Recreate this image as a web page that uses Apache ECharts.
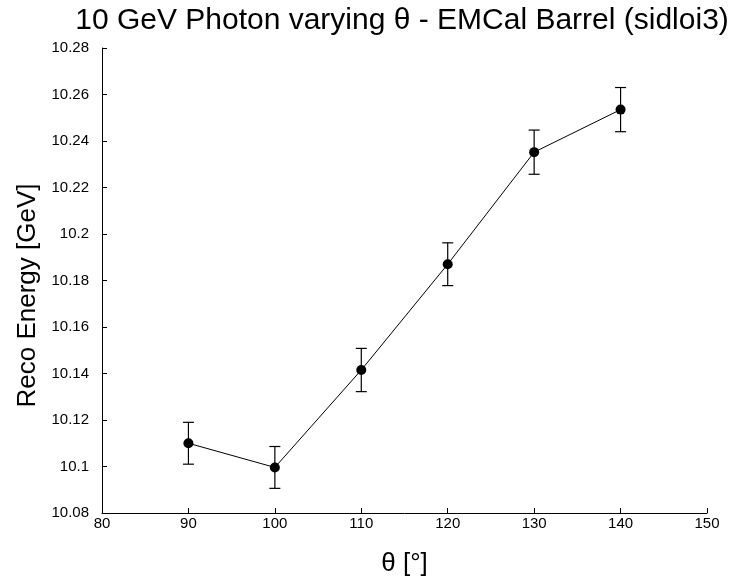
<!DOCTYPE html>
<html>
<head>
<meta charset="utf-8">
<script src="https://cdn.jsdelivr.net/npm/echarts@6/dist/echarts.min.js"></script>
<style>html,body{margin:0;padding:0;background:#fff;}#c{width:732px;height:587px;}</style>
</head>
<body>
<div id="c"></div>
<script>
const thetaValues = [90, 100, 110, 120, 130, 140];
const recoEnergy = [10.110, 10.0996, 10.1415, 10.187, 10.2352, 10.2535];
const energyError = [0.009, 0.009, 0.0093, 0.0092, 0.0095, 0.0095];
const xTicks = { min: 80, max: 150, interval: 10 };
const yTicks = { min: 10.08, max: 10.28, interval: 0.02 };

const lineData = thetaValues.map((t, i) => [t, recoEnergy[i]]);
const errData = thetaValues.map((t, i) => [t, recoEnergy[i] - energyError[i], recoEnergy[i] + energyError[i]]);

const font = 'Liberation Sans, Arial, sans-serif';
const chart = echarts.init(document.getElementById('c'));
chart.setOption({
  animation: false,
  backgroundColor: '#fff',
  title: {
    text: '10 GeV Photon varying θ - EMCal Barrel (sidloi3)',
    left: 397, top: 1, textAlign: 'center',
    textStyle: { fontFamily: font, fontSize: 30, fontWeight: 'normal', color: '#000' }
  },
  grid: { left: 102, right: 25, top: 48, bottom: 74 },
  xAxis: {
    type: 'value', min: xTicks.min, max: xTicks.max, interval: xTicks.interval,
    name: 'θ [°]', nameLocation: 'middle', nameGap: 38,
    nameTextStyle: { fontFamily: font, fontSize: 26, color: '#000' },
    axisLine: { lineStyle: { color: '#000', width: 1 } },
    axisTick: { inside: true, length: 5, lineStyle: { color: '#000' } },
    axisLabel: { fontFamily: font, fontSize: 15, color: '#000', margin: 3 },
    splitLine: { show: false }
  },
  yAxis: {
    type: 'value', min: yTicks.min, max: yTicks.max, interval: yTicks.interval,
    name: 'Reco Energy [GeV]', nameLocation: 'middle', nameGap: 58, nameRotate: 90,
    nameTextStyle: { fontFamily: font, fontSize: 26, color: '#000', padding: [0, 30, 0, 0] },
    axisLine: { show: true, lineStyle: { color: '#000', width: 1 } },
    axisTick: { show: true, inside: true, length: 5, lineStyle: { color: '#000' } },
    axisLabel: { fontFamily: font, fontSize: 15, color: '#000', margin: 13,
      formatter: v => String(parseFloat(v.toFixed(3))) },
    splitLine: { show: false }
  },
  series: [
    {
      type: 'line', data: lineData,
      symbol: 'circle', symbolSize: 10,
      itemStyle: { color: '#000' },
      lineStyle: { color: '#000', width: 1 },
      z: 3
    },
    {
      type: 'custom', data: errData, z: 2,
      renderItem: function (params, api) {
        const x = api.value(0);
        const lo = api.coord([x, api.value(1)]);
        const hi = api.coord([x, api.value(2)]);
        const hw = 5.5;
        const style = { stroke: '#000', lineWidth: 1.2, fill: null };
        return {
          type: 'group',
          children: [
            { type: 'line', shape: { x1: lo[0], y1: lo[1], x2: hi[0], y2: hi[1] }, style },
            { type: 'line', shape: { x1: lo[0] - hw, y1: lo[1], x2: lo[0] + hw, y2: lo[1] }, style },
            { type: 'line', shape: { x1: hi[0] - hw, y1: hi[1], x2: hi[0] + hw, y2: hi[1] }, style }
          ]
        };
      }
    }
  ]
});
</script>
</body>
</html>
